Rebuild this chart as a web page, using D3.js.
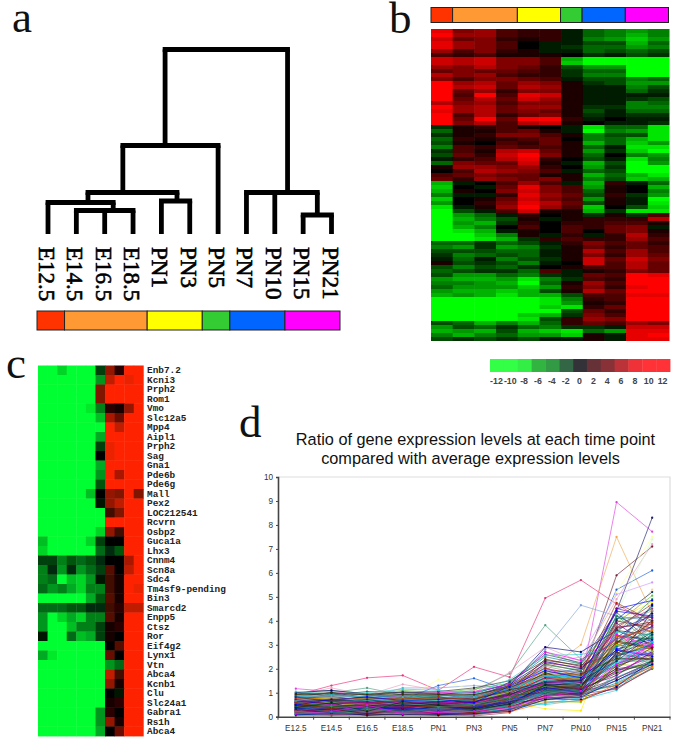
<!DOCTYPE html>
<html><head><meta charset="utf-8">
<script src="https://cdn.jsdelivr.net/npm/d3@7"></script>
<style>html,body{margin:0;padding:0;background:#fff}svg{display:block}</style></head>
<body><svg id="c" width="685" height="754"></svg>
<script>
const timePoints=["E12.5","E14.5","E16.5","E18.5","PN1","PN3","PN5","PN7","PN10","PN15","PN21"];
const stageSpansA=[1,3,2,1,2,2];
const stageSpansB=[1,3,2,1,2,2];
const stageColors=["#ff3300","#ff9933","#ffff00","#33cc33","#0066ff","#ff00ff"];
const mergeChildren=[[1,2,3],[0,11],[4,5],[12,13],[14,6],[9,10],[7,8,16],[15,17]];
const mergeHeights=[23.5,31.5,33,41.5,88.5,19,41.5,184.5];
const mergeCenters=[2.3,1.41,4.55,2.64,4.13,9.5,8.45,6.3];
const legendTicks=[-12,-10,-8,-6,-4,-2,0,2,4,6,8,10,12];
const legendColors=["#33ff44","#33ff44","#33ee44","#33b540","#339944","#336644","#333338","#663338","#883338","#bb3338","#ee3338","#ff3338","#ff3338"];
const heatB=[
[9,5,6,3,2,2,-1,-4,-5,-6,-5],[10,6,6,3,2,2,-1,-4,-5,-7,-5],[8,4,5,2,1,2,-1,-5,-6,-8,-6],[9,6,5,3,0,-1,-1,-3,-3,-7,-4],
[9,6,5,3,0,-1,-2,-4,-4,-6,-5],[6,3,5,2,1,-1,-1,-4,-3,-4,-3],[3,2,3,1,1,1,0,-2,-1,-3,-2],[8,7,8,5,5,3,-7,-11,-10,-12,-12],
[8,7,8,5,5,3,-8,-12,-11,-12,-12],[6,5,7,5,4,2,-3,-6,-6,-12,-11],[4,5,4,4,3,2,-2,-4,-4,-12,-12],[7,5,6,3,2,2,-2,-5,-5,-10,-10],
[5,3,5,5,4,3,-1,-3,-3,-5,-4],[10,6,7,4,6,5,1,-2,-3,-6,-6],[10,7,8,4,7,6,1,-1,-1,-5,-3],[11,4,6,2,5,5,1,-1,-1,-4,-2],
[12,3,10,3,9,8,1,-1,-1,-1,-1],[11,4,7,4,8,6,1,-1,-1,-2,-3],[7,5,6,3,5,5,1,-1,-1,-5,-4],[10,6,7,4,6,6,1,-2,-2,-5,-5],
[9,6,7,4,5,4,1,-3,-1,-4,-4],[12,3,7,2,4,5,1,-2,-1,-2,-2],[12,4,11,4,10,10,2,-1,0,-1,-1],[11,5,7,3,7,8,1,0,-1,-1,-2],
[-2,1,2,3,1,0,-1,-9,-4,-4,-9],[-4,1,1,3,4,1,-1,-10,-5,-6,-9],[-2,1,2,5,5,3,1,-5,-3,-3,-9],[-4,2,1,2,3,4,0,-5,-4,-7,-9],
[-3,1,0,3,2,4,1,-7,-4,-8,-6],[-5,3,2,4,3,3,1,-4,-1,-9,-9],[-2,3,1,7,8,4,1,-6,-2,-8,-10],[-3,4,2,8,10,5,1,-4,0,-5,-6],
[-1,2,3,7,9,2,0,-3,-1,-9,-5],[-4,5,4,4,8,1,-1,-7,-3,-11,-6],[1,6,6,5,6,2,0,-6,-2,-10,-10],[0,3,7,6,5,3,-1,-4,-3,-11,-11],
[3,4,5,4,4,1,1,-7,-4,-7,-9],[4,2,6,5,4,5,1,-5,-3,-8,-7],[-7,-1,0,3,6,3,-1,-7,2,-1,-4],[-8,0,-1,4,9,5,3,-6,1,0,-7],
[-7,1,0,5,8,5,3,-4,1,0,-5],[-5,-1,-1,2,9,6,4,-3,2,-2,-6],[-8,0,1,4,8,5,3,-6,1,-1,-10],[-6,0,2,5,9,7,4,-3,1,-1,-9],
[-9,-1,1,6,12,6,3,-8,0,-3,-8],[-11,-3,-1,3,8,1,1,-7,-2,-9,-9],[-11,-6,-4,-1,2,0,1,-2,1,-2,3],[-12,-7,-5,-3,1,-1,1,2,2,2,7],
[-11,-6,-7,-2,2,0,2,2,3,3,1],[-12,-7,-5,0,3,0,3,2,4,5,-1],[-12,-9,-7,-1,1,0,3,0,4,5,1],[-12,-10,-8,-5,1,-1,2,-1,2,7,2],
[-12,-10,-9,-7,-2,2,3,2,2,6,3],[-4,-4,-2,-4,-3,-1,2,5,3,4,2],[-5,-6,-2,-6,-5,-2,1,4,2,4,3],[-3,-3,-3,-4,-4,-1,1,7,3,6,3],
[-2,-5,-4,-3,-4,-1,1,5,2,6,4],[-1,-4,-1,-5,-3,-2,1,8,4,8,5],[1,-3,-2,-3,-5,-1,0,8,3,7,4],[-3,-5,-3,-4,-2,0,1,3,3,7,4],
[-4,-3,-2,-2,-4,3,-1,1,2,5,4],[-3,-6,-6,-4,-5,-2,-1,4,3,10,9],[-6,-7,-7,-6,-9,-5,-2,3,2,11,10],[-5,-5,-6,-7,-10,-4,1,6,3,10,11],
[-4,-6,-6,-6,-8,-6,2,5,2,9,10],[-6,-7,-7,-8,-7,-3,1,7,4,10,11],[-7,-6,-7,-9,-7,-7,-3,3,3,9,9],[-12,-12,-11,-11,-10,-9,-5,2,3,11,11],
[-12,-12,-12,-12,-11,-9,-6,1,2,12,12],[-11,-12,-12,-11,-11,-8,-9,2,4,12,11],[-12,-12,-12,-11,-10,-10,-3,4,2,12,12],[-12,-11,-12,-10,-8,-7,-2,5,3,11,12],
[-12,-12,-11,-10,-9,-3,2,6,5,11,12],[-3,-4,-7,-5,-7,-4,2,4,3,6,5],[-6,-3,-4,-2,-4,-5,-2,-2,-1,8,8],[-7,-6,-7,-3,-7,-8,-9,-4,-6,9,9],
[-5,-7,-5,-4,-6,-6,-8,1,-1,9,10],[-3,-2,-3,-2,-3,-1,-1,1,-1,9,9]
];
const geneLabels=["Enb7.2","Kcni3","Prph2","Rom1","Vmo","Slc12a5","Mpp4","Aipl1","Prph2","Sag","Gna1","Pde6b","Pde6g","Mall","Pex2","LOC212541","Rcvrn","Osbp2","Guca1a","Lhx3","Cnnm4","Scn8a","Sdc4","Tm4sf9-pending","Bin3","Smarcd2","Enpp5","Ctsz","Ror","Eif4g2","Lynx1","Vtn","Abca4","Kcnb1","Clu","Slc24a1","Gabra1","Rs1h","Abca4"];
const heatC=[
[-12,-12,-10,-12,-12,-12,-3,7,2,12,12],[-12,-12,-12,-12,-12,-12,-7,9,12,11,12],[-12,-12,-12,-12,-12,-12,6,12,12,12,12],[-12,-12,-12,-12,-12,-12,6,12,12,12,12],
[-12,-12,-12,-12,-12,-11,-6,2,1,7,12],[-12,-12,-12,-12,-12,-12,-9,8,5,12,12],[-12,-12,-12,-12,-12,-12,-12,12,9,12,12],[-12,-12,-12,-12,-12,-12,-8,12,12,12,12],
[-12,-12,-12,-12,-12,-12,-3,11,12,12,12],[-12,-12,-12,-12,-12,-12,0,11,12,12,12],[-12,-12,-12,-12,-12,-12,-8,12,12,12,12],[-12,-12,-12,-12,-12,-12,-7,12,8,12,12],
[-12,-12,-12,-12,-12,-12,-4,12,12,12,12],[-12,-12,-12,-12,-12,-9,0,7,6,12,6],[-12,-12,-12,-12,-12,-12,-1,7,9,12,12],[-12,-12,-12,-12,-12,-12,-12,3,6,12,12],
[-12,-12,-12,-12,-12,-12,-12,12,12,12,12],[-12,-12,-12,-12,-12,-12,-10,7,3,12,12],[-9,-12,-12,-12,-12,-10,-3,0,0,12,12],[-10,-12,-12,-12,-12,-12,-5,-2,-4,12,12],
[-3,-3,-6,-4,-5,-4,-2,0,0,8,12],[-6,-2,-7,-2,-7,-5,-3,4,0,9,12],[-6,-5,-12,-9,-10,-7,-1,3,1,12,12],[-5,-7,-6,-8,-10,-6,-6,3,1,12,11],
[-12,-12,-12,-12,-12,-8,-4,4,1,12,12],[-5,-5,-5,-4,-4,-2,-2,3,2,9,9],[-7,-12,-10,-8,-10,-6,-6,4,1,12,12],[-7,-12,-12,-9,-6,-6,-3,1,2,12,12],
[-1,-12,-12,-5,-9,-8,-3,1,0,12,12],[-12,-12,-12,-12,-12,-12,-12,0,4,12,12],[-8,-11,-12,-12,-12,-12,-12,5,0,12,12],[-12,-12,-12,-12,-12,-12,-12,-7,-5,12,12],
[-12,-12,-12,-12,-12,-12,-12,9,3,12,12],[-12,-12,-12,-12,-12,-12,-12,7,1,12,12],[-12,-12,-12,-12,-12,-12,-12,0,-1,12,12],[-12,-12,-12,-12,-12,-12,-12,1,2,12,12],
[-12,-12,-12,-12,-12,-12,-7,2,0,12,12],[-12,-12,-12,-12,-12,-12,-7,7,1,12,12],[-12,-12,-12,-12,-12,-12,-8,0,5,12,12]
];
const chartTitle=["Ratio of gene expression levels at each time point","compared with average expression levels"];
const yTicks=[0,1,2,3,4,5,6,7,8,9,10];
const lineColors=["#e8307a","#e040e0","#ffee00","#20d0e0","#f0a850","#702030","#50a080","#2060e0","#80a0e0","#ffff99","#202070","#e8a0c0","#60c040","#cc99ff","#ccffcc","#ffcc99",
"#000080","#993366","#800000","#008080","#333399","#339966","#800080","#003366","#0000ff","#993300","#003300","#666699","#ff00ff","#333333","#33cccc","#99cc00","#ff6600","#00ccff","#969696","#333300"];
const lineValues=[
[0.9,1.3,1.62,1.72,1.1,2.08,1.65,4.95,5.7,4.7,3.8],
[1.17,1.05,0.9,0.8,0.7,0.6,0.9,1.5,1.4,8.95,7.72],
[0.5,0.6,0.5,0.6,0.4,0.4,0.6,0.33,0.25,4.0,4.8],
[0.3,0.3,0.2,0.2,0.2,0.3,0.7,0.5,0.7,1.1,2.4],
[0.7,0.8,0.7,0.9,0.9,0.9,1.1,1.9,3.0,7.5,4.3],
[0.5,0.4,0.5,0.5,0.4,0.6,0.9,1.4,1.6,5.9,7.1],
[0.8,1.0,1.2,0.9,0.9,1.1,1.8,3.82,2.4,3.1,3.5],
[0.6,0.7,0.6,0.7,1.3,1.6,1.1,1.8,2.0,5.3,6.1],
[0.7,0.9,0.8,1.2,1.2,1.3,1.2,2.8,4.65,4.2,4.0],
[0.4,0.5,0.6,0.7,1.55,1.1,1.0,2.4,2.0,5.2,7.5],
[0.2,0.3,0.3,0.4,0.5,0.5,0.9,1.6,1.9,4.4,8.3],
[0.9,1.2,0.9,1.35,1.1,1.0,1.85,2.9,2.3,4.9,7.2],
[1.0,1.1,0.9,1.1,1.0,1.15,1.4,2.7,2.2,3.9,5.05],
[0.6,0.5,0.6,0.6,0.8,0.8,1.2,2.2,2.5,5.1,5.6],
[0.3,0.4,0.3,0.4,0.5,0.4,0.7,1.2,1.6,4.3,7.4],
[0.5,0.7,0.5,0.5,0.6,0.7,1.0,1.7,1.8,3.5,5.3],
[0.85,1.0,0.8,0.9,0.9,0.9,1.3,2.9,2.7,3.6,3.0],
[0.05,0.1,0.05,0.1,0.1,0.03,0.17,0.9,1.1,1.3,2.2],
[0.1,0.05,0.1,0.1,0.05,0.1,0.3,0.8,0.8,1.2,2.0],
[0.15,0.2,0.15,0.1,0.15,0.15,0.35,1.0,0.9,1.4,2.1],
[0.2,0.1,0.2,0.15,0.2,0.2,0.4,0.9,1.0,1.5,2.3],
[0.25,0.3,0.2,0.3,0.2,0.25,0.6,1.1,1.0,1.3,2.0],
[0.3,0.2,0.25,0.2,0.3,0.2,0.5,1.2,1.1,1.9,2.5],
[0.35,0.25,0.3,0.3,0.35,0.3,0.7,1.3,1.2,2.0,2.2],
[0.4,0.35,0.35,0.4,0.3,0.35,0.6,1.0,1.3,2.2,2.7],
[0.45,0.5,0.4,0.35,0.4,0.4,0.8,1.2,1.1,2.4,2.4],
[0.5,0.45,0.45,0.5,0.45,0.5,0.9,1.4,1.3,2.6,2.9],
[0.55,0.5,0.5,0.45,0.5,0.45,0.85,1.5,1.4,2.1,3.1],
[0.6,0.55,0.55,0.6,0.55,0.6,1.0,1.6,1.5,2.8,2.6],
[0.65,0.7,0.6,0.55,0.6,0.55,0.95,1.3,1.2,3.0,3.3],
[0.7,0.6,0.65,0.7,0.65,0.7,1.1,1.7,1.6,2.5,3.6],
[0.75,0.8,0.7,0.65,0.7,0.65,1.05,1.8,1.5,3.2,2.8],
[0.8,0.7,0.75,0.8,0.75,0.8,1.15,1.9,1.7,2.9,3.9],
[0.85,0.9,0.8,0.75,0.8,0.75,1.2,2.0,1.6,3.4,3.2],
[0.9,0.8,0.85,0.9,0.85,0.9,1.25,2.1,1.8,3.1,4.1],
[0.95,1.0,0.9,0.85,0.9,0.85,1.3,2.2,1.9,3.6,3.4],
[1.0,1.1,0.95,1.0,0.95,1.0,1.35,2.3,2.0,3.3,4.3],
[0.35,0.4,0.3,0.45,0.35,0.3,0.65,1.15,1.0,3.8,4.5],
[0.4,0.45,0.5,0.3,0.4,0.45,0.75,1.35,1.15,4.0,3.7],
[0.15,0.25,0.2,0.25,0.25,0.25,0.55,0.95,0.85,3.0,4.6],
[0.1,0.15,0.25,0.2,0.15,0.3,0.45,1.05,0.95,2.7,3.8],
[0.2,0.3,0.35,0.3,0.3,0.2,0.6,1.25,1.25,3.5,4.9],
[0.25,0.35,0.1,0.35,0.25,0.35,0.7,1.45,1.35,3.9,2.9],
[0.3,0.15,0.4,0.25,0.35,0.15,0.8,1.55,1.45,4.2,3.5],
[0.45,0.3,0.45,0.55,0.5,0.4,0.9,1.65,1.55,4.4,4.2],
[0.55,0.65,0.35,0.4,0.45,0.55,0.95,1.75,1.65,3.7,4.7],
[0.6,0.4,0.55,0.65,0.6,0.5,1.0,1.85,1.3,2.3,4.4],
[0.65,0.75,0.6,0.5,0.7,0.6,1.1,1.95,1.85,2.05,3.0],
[0.7,0.5,0.7,0.6,0.55,0.7,1.15,2.05,1.4,1.85,2.6],
[0.75,0.85,0.65,0.75,0.8,0.65,1.2,1.1,1.05,1.6,2.3],
[0.8,0.6,0.8,0.7,0.65,0.75,1.25,1.6,1.75,1.45,2.2],
[0.5,0.6,0.4,0.6,0.7,0.5,1.05,1.3,1.0,2.15,2.55],
[0.3,0.4,0.5,0.5,0.3,0.5,0.85,1.45,1.2,2.55,3.05],
[0.1,0.2,0.15,0.3,0.2,0.1,0.5,1.05,1.05,2.35,2.75],
[0.05,0.05,0.1,0.05,0.1,0.05,0.25,0.85,0.75,1.75,2.45],
[0.2,0.25,0.05,0.15,0.1,0.15,0.3,0.7,0.9,1.95,2.15],
[0.4,0.2,0.3,0.25,0.45,0.25,0.55,0.75,0.7,1.25,2.35],
[0.6,0.35,0.45,0.35,0.25,0.35,0.65,0.85,0.95,1.15,2.05],
[0.55,0.75,0.55,0.8,0.6,0.8,1.1,2.4,2.1,3.7,3.95],
[0.7,0.95,0.75,0.95,0.7,0.95,1.4,2.5,2.2,4.1,4.15],
[0.85,0.65,0.85,1.05,0.95,0.7,1.45,2.6,2.25,4.35,3.1],
[0.45,0.55,0.65,0.75,0.75,0.85,1.15,2.15,1.95,2.75,3.35],
[0.25,0.45,0.45,0.55,0.55,0.6,1.0,2.25,2.05,3.25,3.75],
[0.15,0.35,0.3,0.5,0.4,0.55,0.8,1.5,1.35,4.05,5.2],
[0.35,0.15,0.15,0.2,0.2,0.4,0.6,1.25,1.5,4.5,4.85],
[0.5,0.45,0.25,0.4,0.5,0.3,0.75,1.4,1.7,4.75,4.0],
[0.65,0.55,0.7,0.8,0.85,0.45,0.9,1.0,1.1,3.15,2.9],
[0.8,0.85,0.95,0.7,0.65,0.9,1.3,1.15,1.25,2.45,2.65],
[0.75,0.65,0.5,0.95,1.0,1.05,1.35,2.7,2.35,3.45,2.5],
[0.95,0.9,1.05,1.0,1.05,1.2,1.5,2.35,2.15,2.65,2.35],
[1.05,0.95,1.0,1.15,1.1,0.95,1.55,2.55,2.6,2.85,2.15],
[0.2,0.15,0.35,0.1,0.3,0.2,0.4,0.65,0.6,2.2,2.05],
[0.3,0.25,0.1,0.2,0.15,0.15,0.2,0.6,0.65,1.35,2.1],
[0.1,0.1,0.2,0.15,0.25,0.1,0.35,0.55,0.8,1.65,2.25],
[0.4,0.3,0.25,0.3,0.35,0.2,0.5,0.95,1.15,2.95,3.65],
[0.5,0.55,0.6,0.45,0.5,0.65,0.95,1.2,1.2,3.35,3.25],
[0.6,0.7,0.8,0.65,0.75,0.75,1.05,1.35,1.3,3.05,4.65],
[0.7,0.65,0.55,0.85,0.6,0.85,1.2,1.7,1.45,3.75,3.85],
[0.25,0.3,0.4,0.35,0.55,0.35,0.6,1.1,0.9,2.65,3.15],
[0.35,0.5,0.2,0.25,0.4,0.4,0.7,1.05,1.0,2.45,3.45],
[0.12,0.18,0.12,0.22,0.12,0.12,0.3,0.98,0.92,2.12,2.62],
[0.22,0.12,0.22,0.12,0.22,0.22,0.45,1.02,1.08,2.32,2.32],
[0.28,0.22,0.28,0.28,0.28,0.28,0.52,1.12,1.18,1.72,2.72],
[0.32,0.38,0.32,0.38,0.32,0.32,0.62,1.18,1.28,2.52,3.02],
[0.38,0.28,0.38,0.32,0.38,0.38,0.68,1.22,1.02,2.82,3.22],
[0.42,0.48,0.42,0.42,0.42,0.42,0.72,1.28,1.22,3.12,2.82],
[0.48,0.42,0.48,0.48,0.48,0.48,0.78,1.32,1.32,2.62,3.52],
[0.52,0.58,0.52,0.52,0.52,0.52,0.82,1.38,1.42,3.22,3.72],
[0.58,0.52,0.58,0.58,0.58,0.58,0.88,1.42,1.48,3.42,2.92],
[0.62,0.68,0.62,0.62,0.62,0.62,0.92,1.48,1.52,2.72,4.02],
[0.68,0.62,0.68,0.68,0.68,0.68,0.98,1.52,1.38,3.52,3.42],
[0.72,0.78,0.72,0.72,0.72,0.72,1.02,1.58,1.58,3.02,2.72],
[0.78,0.72,0.78,0.78,0.78,0.78,1.08,1.62,1.62,3.32,3.62],
[0.82,0.88,0.82,0.82,0.82,0.82,1.12,1.68,1.68,2.22,3.12],
[0.88,0.82,0.88,0.88,0.88,0.88,1.18,1.72,1.72,3.82,4.42],
[0.92,0.98,0.92,0.92,0.92,0.92,1.22,1.78,1.78,2.42,2.42],
[0.08,0.12,0.08,0.08,0.08,0.12,0.22,0.72,0.82,1.52,2.18],
[0.18,0.08,0.18,0.18,0.18,0.08,0.28,0.78,0.88,1.62,2.28],
[0.28,0.32,0.12,0.32,0.12,0.18,0.42,0.88,0.98,2.02,2.88],
[0.42,0.18,0.32,0.22,0.32,0.28,0.48,1.08,1.12,2.92,3.28],
[0.52,0.28,0.42,0.42,0.22,0.42,0.58,1.18,1.02,3.62,4.22],
[0.62,0.42,0.28,0.58,0.42,0.52,0.78,1.28,1.32,4.22,3.02],
[0.72,0.52,0.62,0.38,0.52,0.62,0.98,1.62,1.42,4.52,4.12],
[0.82,0.62,0.72,0.52,0.62,0.72,1.12,1.42,1.52,2.32,3.42],
[0.48,0.72,0.82,0.68,0.72,0.58,1.28,1.92,1.62,2.78,2.52],
[0.58,0.32,0.52,0.72,0.82,0.68,1.32,2.02,1.72,3.08,3.92],
[0.38,0.58,0.22,0.62,0.48,0.32,0.52,1.32,1.12,1.82,2.32],
[0.22,0.48,0.38,0.18,0.38,0.48,0.68,0.92,0.78,2.62,2.62],
[0.12,0.22,0.48,0.12,0.18,0.22,0.38,0.82,1.08,2.18,3.02]
];

const svg=d3.select("#c");
const defs=svg.append("defs");
defs.append("filter").attr("id","soft").attr("x","-2%").attr("y","-2%").attr("width","104%").attr("height","104%")
 .append("feGaussianBlur").attr("stdDeviation",0.6);
defs.append("filter").attr("id","softer").attr("x","-2%").attr("y","-2%").attr("width","104%").attr("height","104%")
 .append("feGaussianBlur").attr("stdDeviation",0.4);
defs.append("filter").attr("id","softest").attr("x","-2%").attr("y","-2%").attr("width","104%").attr("height","104%")
 .append("feGaussianBlur").attr("stdDeviation",0.25);
const serif="'Liberation Serif','Times New Roman',serif", sans="'Liberation Sans',Arial,sans-serif", mono="'Liberation Mono','Courier New',monospace";

[["a",12,32],["b",389,33],["c",6,378],["d",239,437]].forEach(([t,x,y])=>svg.append("text").attr("x",x).attr("y",y).attr("font-family",serif).attr("font-size",45).attr("fill","#111").text(t));

function stageBar(spans,x0,x1,y0,h){
  const total=d3.sum(spans);
  const sx=d3.scaleLinear([0,total],[x0,x1]);
  let acc=0;
  svg.append("g").selectAll("rect").data(spans).join("rect")
    .attr("x",d=>{const v=sx(acc);acc+=d;return v;})
    .attr("y",y0).attr("height",h)
    .attr("width",d=>sx(d)-sx(0))
    .attr("fill",(d,i)=>stageColors[i]).attr("stroke","#222").attr("stroke-width",1);
}

// panel a
const leafX=d3.scaleLinear([0,10],[48,331.5]);
const treeY=d3.scaleLinear([0,184.5],[234,49.5]);
const nodes=timePoints.map((n,i)=>({pos:i,h:0}));
const ga=svg.append("g").attr("fill","none").attr("stroke","#000").attr("stroke-width",4.8).attr("stroke-linecap","square");
mergeChildren.forEach((ch,m)=>{
  const node={pos:mergeCenters[m],h:mergeHeights[m]};
  ch.forEach(c=>{ga.append("line").attr("x1",leafX(nodes[c].pos)).attr("x2",leafX(nodes[c].pos)).attr("y1",treeY(nodes[c].h)).attr("y2",treeY(node.h)).attr("stroke-linecap","butt");});
  const ps=ch.map(c=>nodes[c].pos);
  ga.append("line").attr("x1",leafX(d3.min(ps))).attr("x2",leafX(d3.max(ps))).attr("y1",treeY(node.h)).attr("y2",treeY(node.h));
  nodes.push(node);
});
svg.append("g").selectAll("text").data(timePoints).join("text")
  .attr("transform",(d,i)=>`translate(${leafX(i)-1.5},247) rotate(90)`)
  .attr("dominant-baseline","central").attr("font-family",serif).attr("font-size",23).attr("fill","#000")
  .attr("stroke","#000").attr("stroke-width",0.6).text(d=>d);
stageBar(stageSpansA,37,340,311,19);

// panel b
stageBar(stageSpansB,431,668.5,7.5,15);
const bColor=d3.scaleLinear([-10,0,10],["#00ff00","#000000","#ff0000"]).clamp(true);
const bx=d3.scaleBand(d3.range(11),[431,669.5]);
const by=d3.scaleBand(d3.range(heatB.length),[29,341]);
defs.append("clipPath").attr("id","cb").append("rect").attr("x",431).attr("y",29).attr("width",238.5).attr("height",312);
const gbOuter=svg.append("g").attr("clip-path","url(#cb)");
const gb=gbOuter.append("g").attr("filter","url(#soft)");
heatB.forEach((row,r)=>gb.selectAll(null).data(row).join("rect")
  .attr("x",(d,i)=>bx(i)).attr("y",by(r)).attr("width",bx.bandwidth()+0.5).attr("height",by.bandwidth()+0.5).attr("fill",d=>bColor(d)));

// legend
const lx=d3.scaleBand(legendTicks,[490,670]);
const lc=d3.scaleOrdinal(legendTicks,legendColors);
const gl=svg.append("g").attr("filter","url(#softer)");
gl.selectAll("rect").data(legendTicks).join("rect").attr("x",d=>lx(d)).attr("y",359).attr("width",lx.bandwidth()+0.4).attr("height",13).attr("fill",d=>lc(d));
svg.append("g").selectAll("text").data(legendTicks).join("text")
  .attr("x",d=>lx(d)+lx.bandwidth()/2-0.5).attr("y",383.5).attr("text-anchor","middle")
  .attr("font-family",sans).attr("font-weight","bold").attr("font-size",8.8).attr("fill","#444").text(d=>d);

// panel c
const cColor=d3.scaleLinear([-12,0,12],["#00ff30","#000000","#ff2400"]);
const cx=d3.scaleBand(d3.range(11),[38,143.3]);
const cy=d3.scaleBand(geneLabels.map((d,i)=>i),[365.5,736]);
const gc=svg.append("g").attr("filter","url(#softer)");
heatC.forEach((row,r)=>gc.selectAll(null).data(row).join("rect")
  .attr("x",(d,i)=>cx(i)).attr("y",cy(r)).attr("width",cx.bandwidth()+0.4).attr("height",cy.bandwidth()+0.4).attr("fill",d=>cColor(d)));
svg.append("g").selectAll("text").data(geneLabels).join("text")
  .attr("x",147).attr("y",(d,i)=>cy(i)+cy.bandwidth()/2+3).attr("font-family",mono).attr("font-weight","bold")
  .attr("font-size",9.4).attr("fill","#222").text(d=>d);

// panel d
svg.append("g").selectAll("text").data(chartTitle).join("text")
  .attr("x",(d,i)=>i?470.5:475.5).attr("y",(d,i)=>445+i*18.5).attr("text-anchor","middle")
  .attr("font-family",sans).attr("font-size",16.3).attr("fill","#111").text(d=>d);
const px=d3.scaleBand(timePoints,[278,670]);
const py=d3.scaleLinear([0,10],[716.7,477]);
svg.append("path").attr("d",`M278,${py(10)}H670V${py(0)}`).attr("fill","none").attr("stroke","#ddd").attr("stroke-width",1.2);
const lineGen=d3.line().x((d,i)=>px(timePoints[i])+px.bandwidth()/2).y(d=>py(d));
const gd=svg.append("g").attr("filter","url(#softest)");
lineValues.forEach((vals,k)=>{
  const col=lineColors[k<16?k:16+(k-16)%(lineColors.length-16)];
  gd.append("path").attr("d",lineGen(vals)).attr("fill","none").attr("stroke",col).attr("stroke-width",0.65);
  gd.append("g").selectAll("circle").data(vals).join("circle")
    .attr("cx",(d,i)=>px(timePoints[i])+px.bandwidth()/2).attr("cy",d=>py(d)).attr("r",1.15).attr("fill",col);
});
const ax=svg.append("g").attr("transform",`translate(0,${py(0)})`)
  .call(d3.axisBottom(px).tickSize(0).tickPadding(8));
ax.select(".domain").attr("stroke","#444").attr("stroke-width",1.6);
ax.selectAll("text").attr("font-family",sans).attr("font-size",8.2).attr("fill","#333");
svg.append("g").selectAll("line").data(d3.range(12)).join("line")
  .attr("x1",i=>278+i*px.step()).attr("x2",i=>278+i*px.step()).attr("y1",py(0)).attr("y2",py(0)+3).attr("stroke","#444");
const ay=svg.append("g").attr("transform","translate(278,0)").call(d3.axisLeft(py).tickValues(yTicks).tickSize(2).tickPadding(3));
ay.select(".domain").attr("stroke","#444").attr("stroke-width",1.6);
ay.selectAll("line").attr("stroke","#444");
ay.selectAll("text").attr("font-family",sans).attr("font-size",8.2).attr("fill","#333");
</script></body></html>
